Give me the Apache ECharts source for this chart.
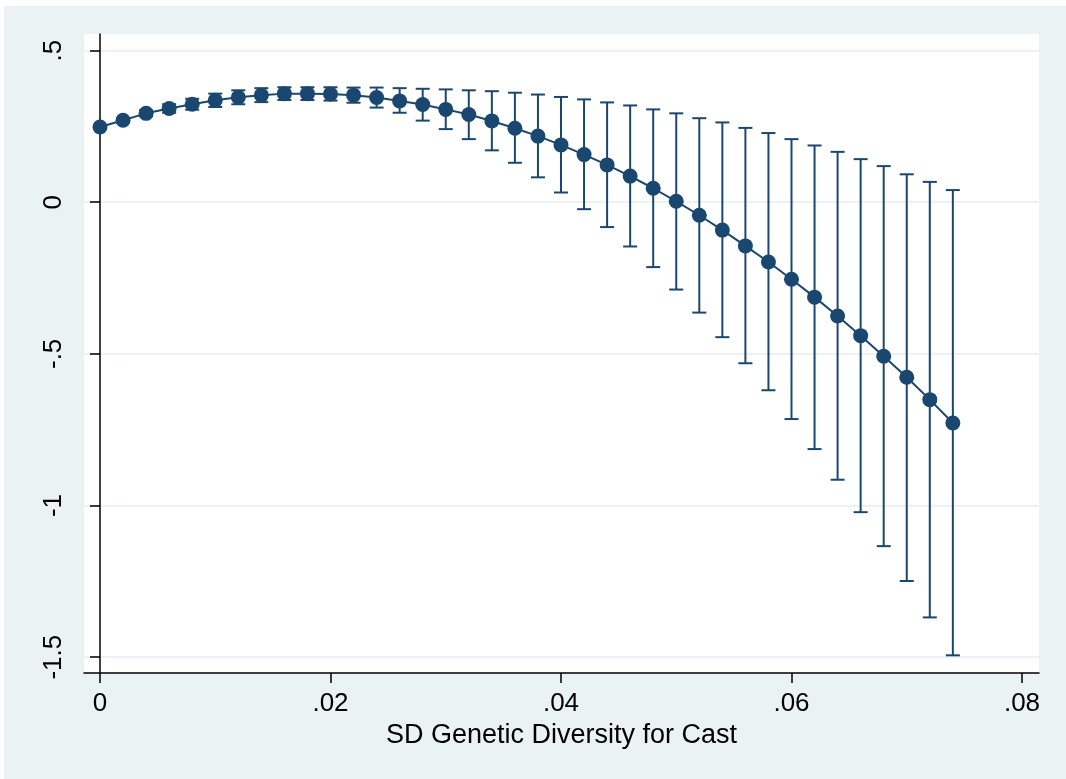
<!DOCTYPE html>
<html>
<head>
<meta charset="utf-8">
<script src="https://cdn.jsdelivr.net/npm/echarts@6/dist/echarts.min.js"></script>
<style>
  html, body { margin: 0; padding: 0; background: #ffffff; }
  #main { position: absolute; left: 4px; top: 6px; width: 1062px; height: 773px; }
</style>
</head>
<body>
<div id="main"></div>
<script>
// SD genetic diversity values (x) and the estimated effect with its confidence band
const xValues = [0, 0.002, 0.004, 0.006, 0.008, 0.010, 0.012, 0.014, 0.016, 0.018,
  0.020, 0.022, 0.024, 0.026, 0.028, 0.030, 0.032, 0.034, 0.036, 0.038,
  0.040, 0.042, 0.044, 0.046, 0.048, 0.050, 0.052, 0.054, 0.056, 0.058,
  0.060, 0.062, 0.064, 0.066, 0.068, 0.070, 0.072, 0.074];
const effect = [0.248, 0.270, 0.293, 0.309, 0.323, 0.336, 0.346, 0.353, 0.358, 0.358,
  0.357, 0.353, 0.345, 0.334, 0.322, 0.306, 0.289, 0.268, 0.244, 0.218,
  0.189, 0.157, 0.123, 0.086, 0.046, 0.003, -0.043, -0.092, -0.144, -0.197,
  -0.254, -0.313, -0.375, -0.440, -0.508, -0.577, -0.651, -0.728];
const upper = [0.253, 0.277, 0.303, 0.323, 0.341, 0.358, 0.369, 0.376, 0.379, 0.379,
  0.379, 0.378, 0.378, 0.376, 0.374, 0.372, 0.369, 0.366, 0.361, 0.355,
  0.347, 0.339, 0.329, 0.319, 0.306, 0.293, 0.277, 0.263, 0.245, 0.228,
  0.208, 0.187, 0.166, 0.142, 0.119, 0.092, 0.067, 0.040];
const lower = [0.243, 0.263, 0.283, 0.295, 0.305, 0.314, 0.323, 0.330, 0.337, 0.337,
  0.335, 0.328, 0.312, 0.295, 0.269, 0.241, 0.208, 0.171, 0.130, 0.082,
  0.032, -0.023, -0.082, -0.146, -0.214, -0.288, -0.364, -0.445, -0.531, -0.620,
  -0.715, -0.814, -0.915, -1.022, -1.134, -1.249, -1.369, -1.494];
const xTicks = [0, 0.02, 0.04, 0.06, 0.08];
const yTicks = [-1.5, -1, -0.5, 0, 0.5];

const navy = '#1a476f';
const fmt = v => String(v).replace('0.', '.');

const chart = echarts.init(document.getElementById('main'));
chart.setOption({
  backgroundColor: '#eaf2f3',
  animation: false,
  textStyle: { fontFamily: 'Liberation Sans, Arial, sans-serif' },
  grid: {
    left: 80, top: 28, width: 955, height: 639,
    show: true, backgroundColor: '#ffffff', borderWidth: 0
  },
  xAxis: {
    type: 'value',
    min: -0.001388, max: 0.081475,
    name: 'SD Genetic Diversity for Cast',
    nameLocation: 'middle',
    nameGap: 45,
    nameTextStyle: { color: '#000', fontSize: 27 },
    axisLine: { onZero: false, lineStyle: { color: '#000', width: 1.5 } },
    axisTick: { customValues: xTicks, length: 10, lineStyle: { color: '#000', width: 1.5 } },
    axisLabel: { customValues: xTicks, formatter: fmt, color: '#000', fontSize: 26, margin: 18 },
    splitLine: { show: false }
  },
  yAxis: {
    type: 'value',
    min: -1.5523, max: 0.5546,
    axisLine: { show: true, lineStyle: { color: '#000', width: 1.5 } },
    axisTick: { customValues: yTicks, length: 10, lineStyle: { color: '#000', width: 1.5 } },
    axisLabel: { customValues: yTicks, formatter: fmt, color: '#000', fontSize: 26, rotate: 90, margin: 17 },
    splitLine: { show: true, lineStyle: { color: '#eaf2f3', width: 2 } }
  },
  series: [
    {
      type: 'custom',
      data: xValues.map((x, i) => [x, lower[i], upper[i]]),
      renderItem: function (params, api) {
        const lo = api.coord([api.value(0), api.value(1)]);
        const hi = api.coord([api.value(0), api.value(2)]);
        const w = 7;
        const style = { stroke: navy, lineWidth: 2 };
        return {
          type: 'group',
          children: [
            { type: 'line', shape: { x1: lo[0], y1: lo[1], x2: hi[0], y2: hi[1] }, style: style },
            { type: 'line', shape: { x1: hi[0] - w, y1: hi[1], x2: hi[0] + w, y2: hi[1] }, style: style },
            { type: 'line', shape: { x1: lo[0] - w, y1: lo[1], x2: lo[0] + w, y2: lo[1] }, style: style }
          ]
        };
      },
      z: 2
    },
    {
      type: 'line',
      data: xValues.map((x, i) => [x, effect[i]]),
      symbol: 'circle',
      symbolSize: 15,
      itemStyle: { color: navy },
      lineStyle: { color: navy, width: 2 },
      z: 3
    }
  ]
});
</script>
</body>
</html>
